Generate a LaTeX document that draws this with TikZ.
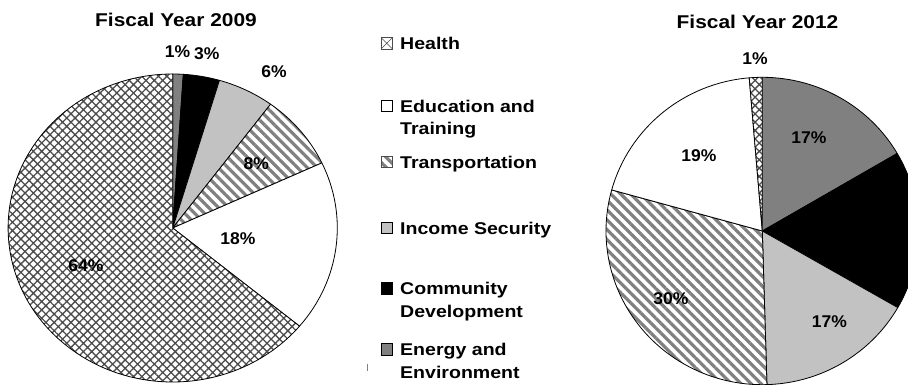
\documentclass[tikz,border=0pt]{standalone}
\usepackage{fontspec}
\setmainfont{Liberation Sans}
\newfontfamily\titlefont{Liberation Sans}[FakeStretch=1.13]
\newfontfamily\legfont{Liberation Sans}[FakeStretch=1.15]
\newfontfamily\pctfont{Liberation Sans}[FakeStretch=1.03]
\usetikzlibrary{patterns.meta}
\definecolor{energy}{gray}{0.5}
\definecolor{income}{gray}{0.76}
\definecolor{stripe}{gray}{0.5}
\definecolor{hatch}{gray}{0.3}
\tikzset{
 slice/.style={draw=black, line width=0.8pt, line join=round},
 pct/.style={font=\pctfont\bfseries\fontsize{17}{20}\selectfont, anchor=base, inner sep=0pt},
 ttl/.style={font=\titlefont\bfseries\fontsize{18.5}{22}\selectfont, anchor=base, inner sep=0pt},
 leg/.style={font=\legfont\bfseries\fontsize{17}{20}\selectfont, anchor=base west, inner sep=0pt},
 healthfill/.style={preaction={fill=white}, pattern={Hatch[angle=45,distance=5.9pt,line width=1.3pt]}, pattern color=hatch},
 transfill/.style={preaction={fill=white}, pattern={Lines[angle=-45,distance=7pt,line width=3.2pt]}, pattern color=stripe},
 keybox/.style={draw=black, line width=0.6pt, minimum size=11.5pt, inner sep=0pt, outer sep=0pt},
}
\newcommand{\myslice}[6]{%
 \path[slice,#6] (#1) -- ++(#4:#2 and #3) arc[start angle=#4, end angle=#5, x radius=#2, y radius=#3] -- cycle;}
\begin{document}
\begin{tikzpicture}[x=1pt,y=1pt]
\useasboundingbox (0,0) rectangle (908,385);
\fill[white] (0,0) rectangle (908,385);
\clip (0,0) rectangle (908,385);
% ---------- left pie (2009)
\coordinate (L) at (172.7,157);
\myslice{L}{164.6pt}{154pt}{90}{86.3}{fill=energy}
\myslice{L}{164.6pt}{154pt}{86.3}{73.5}{fill=black}
\myslice{L}{164.6pt}{154pt}{73.5}{53.5}{fill=income}
\myslice{L}{164.6pt}{154pt}{53.5}{25}{transfill}
\myslice{L}{164.6pt}{154pt}{25}{-39.6}{fill=white}
\myslice{L}{164.6pt}{154pt}{-39.6}{-270}{healthfill}
% ---------- right pie (2012)
\coordinate (R) at (762.3,154);
\myslice{R}{156.3pt}{153.7pt}{90}{30.3}{fill=energy}
\myslice{R}{156.3pt}{153.7pt}{30.3}{-29.9}{fill=black}
\myslice{R}{156.3pt}{153.7pt}{-29.9}{-88.3}{fill=income}
\myslice{R}{156.3pt}{153.7pt}{-88.3}{-195.5}{transfill}
\myslice{R}{156.3pt}{153.7pt}{-195.5}{-265.2}{fill=white}
\myslice{R}{156.3pt}{153.7pt}{-265.2}{-270}{healthfill}
% ---------- titles
\node[ttl] (t09) at (176,358.3) {Fiscal Year 2009};
\node[ttl] (t12) at (757.5,356.7) {Fiscal Year 2012};
% ---------- percentage labels, 2009
\node[pct] (p09a) at (177.5,327.7) {1\%};
\node[pct] (p09b) at (206.7,325.7) {3\%};
\node[pct] (p09c) at (274,307.7) {6\%};
\node[pct] (p09d) at (256.3,215.5) {8\%};
\node[pct] (p09e) at (238,140) {18\%};
\node[pct] (p09f) at (86,113.3) {64\%};
% ---------- percentage labels, 2012
\node[pct] (p12a) at (755,320) {1\%};
\node[pct] (p12b) at (809,241.7) {17\%};
\node[pct] (p12c) at (699,223.3) {19\%};
\node[pct] (p12d) at (671,80) {30\%};
\node[pct] (p12e) at (829.5,57.2) {17\%};
% ---------- legend
\node[keybox, draw=hatch, fill=white, path picture={\draw[hatch, line width=0.6pt] (path picture bounding box.south west) -- (path picture bounding box.north east) (path picture bounding box.north west) -- (path picture bounding box.south east);}] (kH) at (386.75,341.75) {};
\node[leg] (lH) at (400,335) {Health};
\node[keybox, fill=white] (kE) at (386.75,279.05) {};
\node[leg] (lE1) at (400,272.3) {Education and};
\node[leg] (lE2) at (400,250) {Training};
\node[keybox, draw=hatch, transfill] (kT) at (386.75,223.05) {};
\node[leg] (lT) at (400,216.3) {Transportation};
\node[keybox, fill=income] (kI) at (386.75,157.25) {};
\node[leg] (lI) at (400,150.5) {Income Security};
\node[keybox, fill=black] (kC) at (386.75,96.75) {};
\node[leg] (lC1) at (400,90) {Community};
\node[leg] (lC2) at (400,67.7) {Development};
\node[keybox, fill=energy] (kN) at (386.75,35.75) {};
\node[leg] (lN1) at (400,29) {Energy and};
\node[leg] (lN2) at (400,6.7) {Environment};
% small stray mark
\draw[gray, line width=0.6pt] (367,21) -- (367,14);
\end{tikzpicture}
\end{document}
